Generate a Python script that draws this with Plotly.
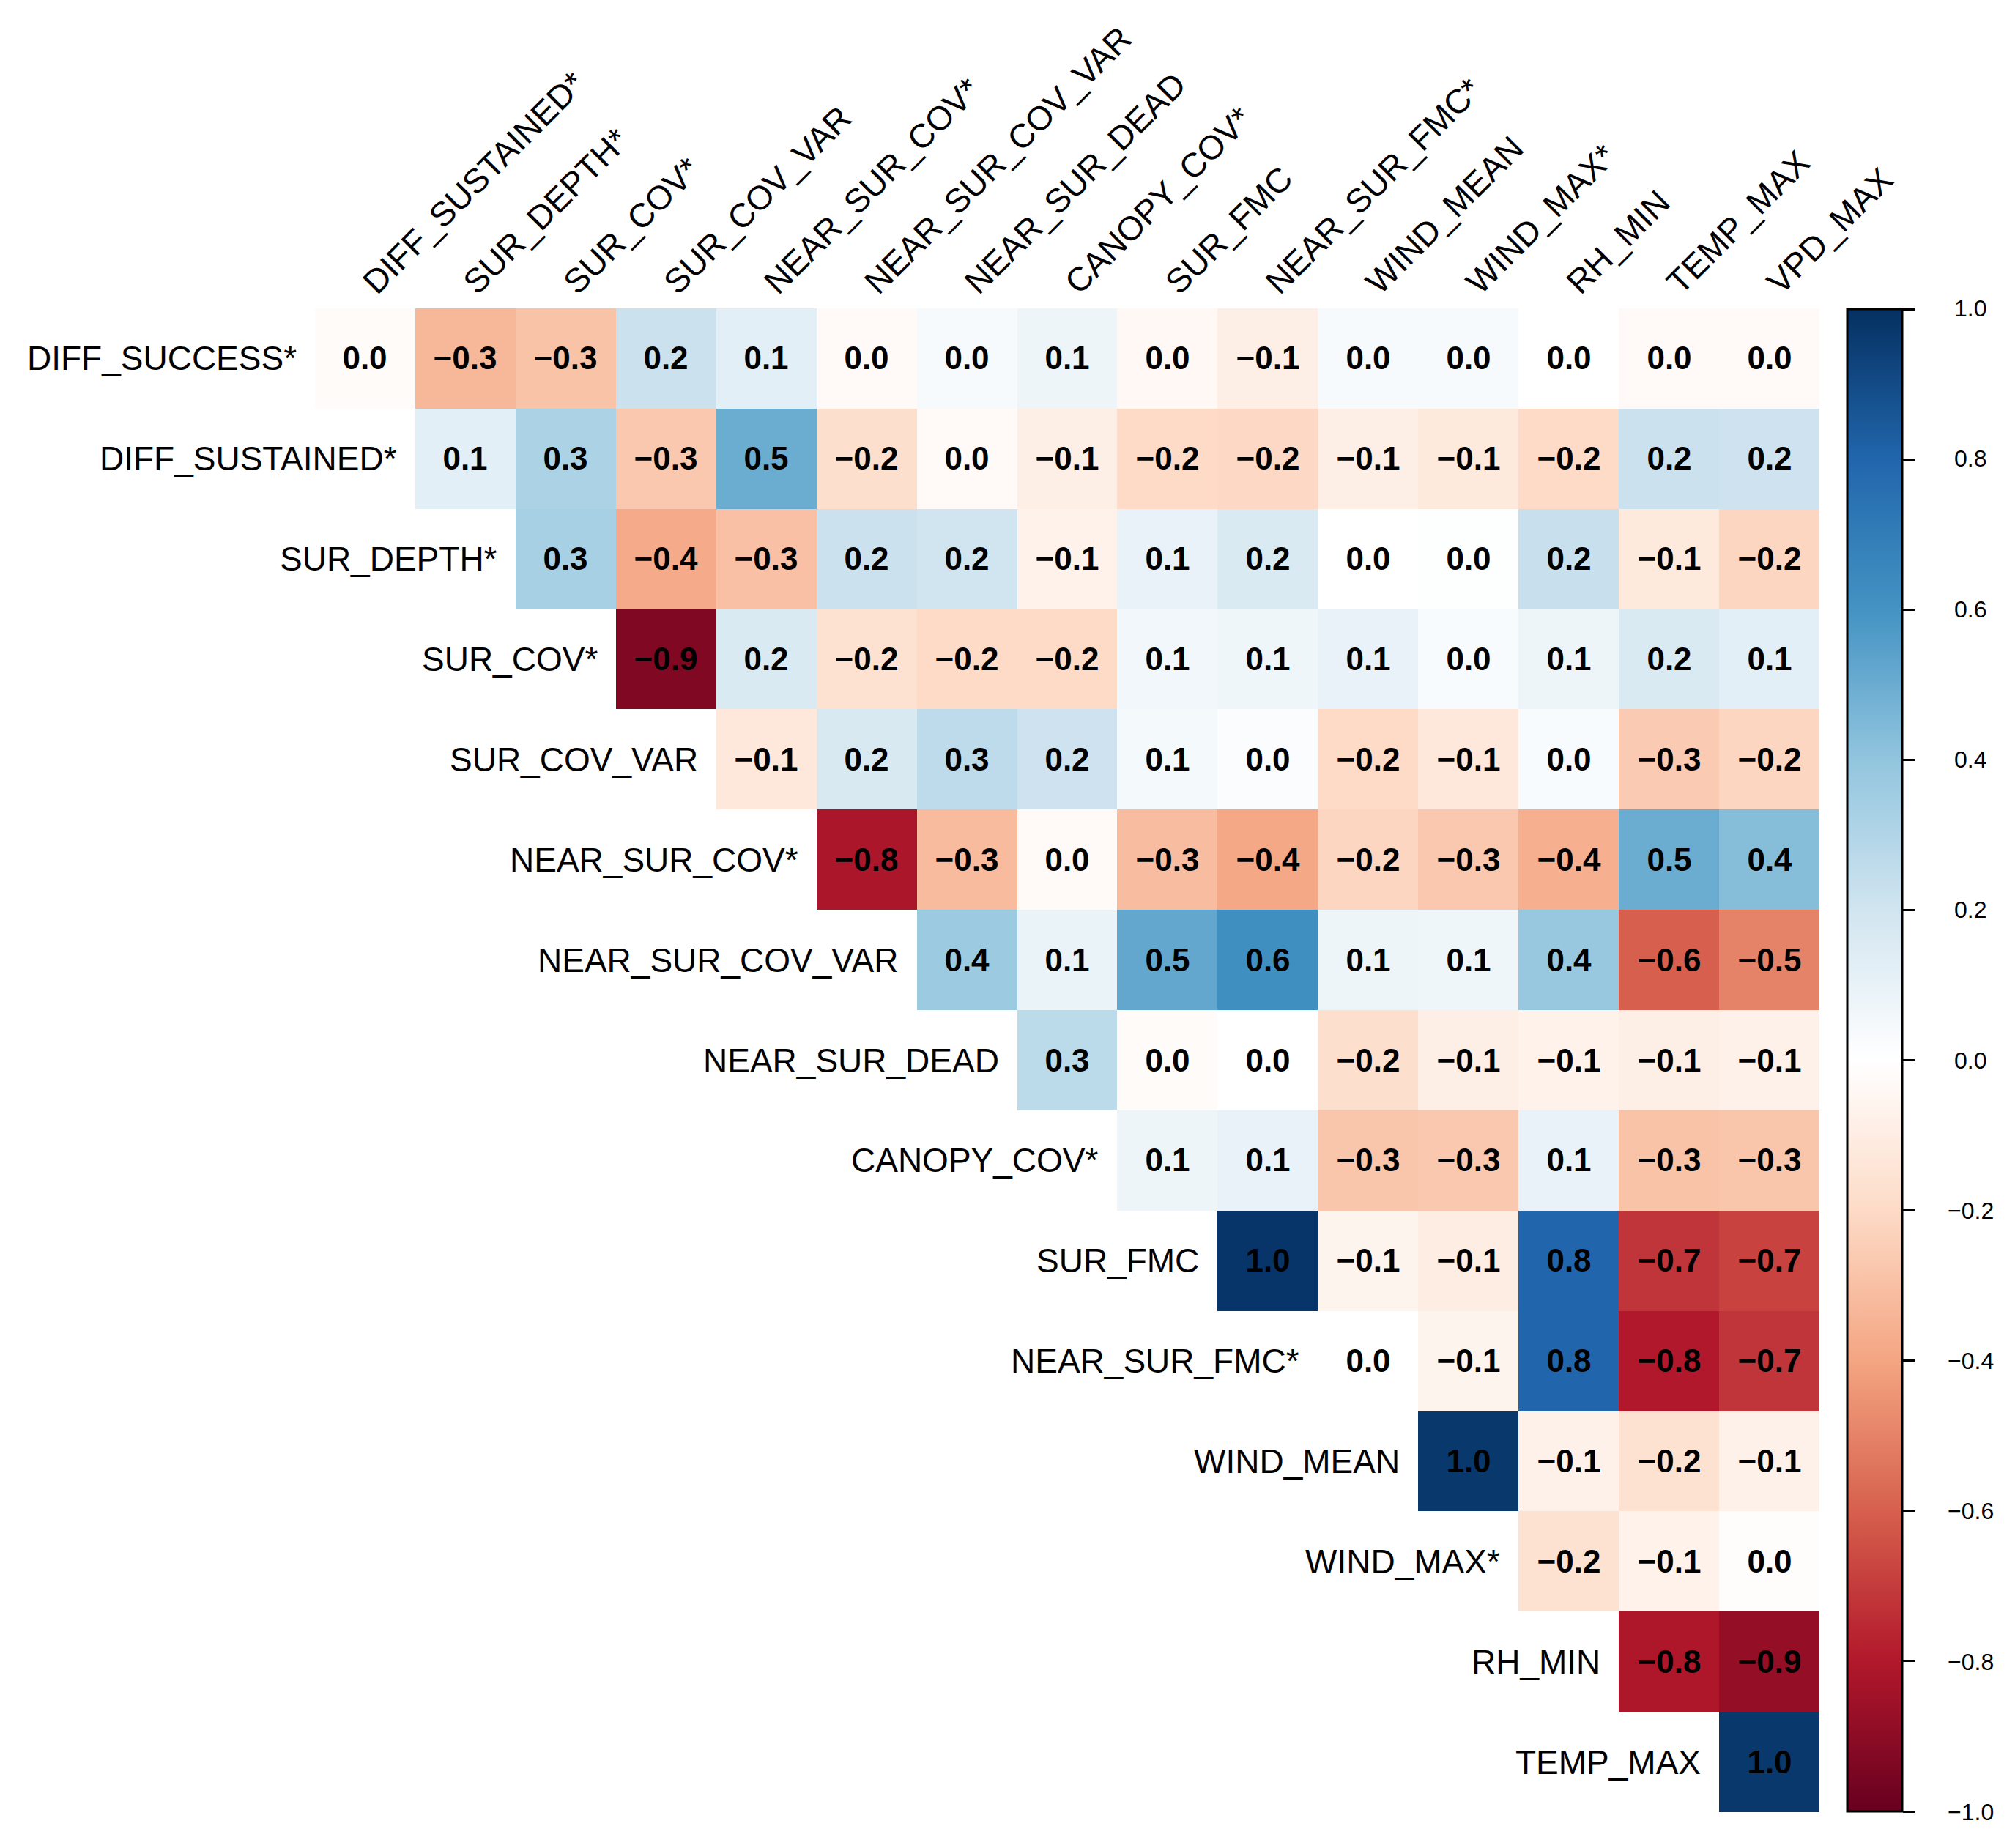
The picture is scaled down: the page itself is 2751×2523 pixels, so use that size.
import plotly.graph_objects as go

col_labels = ["DIFF_SUSTAINED*", "SUR_DEPTH*", "SUR_COV*", "SUR_COV_VAR", "NEAR_SUR_COV*",
              "NEAR_SUR_COV_VAR", "NEAR_SUR_DEAD", "CANOPY_COV*", "SUR_FMC", "NEAR_SUR_FMC*",
              "WIND_MEAN", "WIND_MAX*", "RH_MIN", "TEMP_MAX", "VPD_MAX"]
row_labels = ["DIFF_SUCCESS*", "DIFF_SUSTAINED*", "SUR_DEPTH*", "SUR_COV*", "SUR_COV_VAR",
              "NEAR_SUR_COV*", "NEAR_SUR_COV_VAR", "NEAR_SUR_DEAD", "CANOPY_COV*", "SUR_FMC",
              "NEAR_SUR_FMC*", "WIND_MEAN", "WIND_MAX*", "RH_MIN", "TEMP_MAX"]

# upper triangle, each row starts at its own column
diff_success = [-0.02, -0.33, -0.29, 0.22, 0.12, -0.03, 0.04, 0.08, -0.04, -0.09, 0.04, 0.04, 0.0, -0.03, -0.03]
diff_sustained = [0.12, 0.32, -0.27, 0.5, -0.18, -0.03, -0.09, -0.2, -0.21, -0.09, -0.12, -0.2, 0.22, 0.21]
sur_depth = [0.33, -0.38, -0.3, 0.22, 0.2, -0.07, 0.1, 0.16, 0.0, 0.01, 0.23, -0.12, -0.22]
sur_cov = [-0.93, 0.16, -0.16, -0.2, -0.2, 0.06, 0.07, 0.1, 0.03, 0.08, 0.16, 0.12]
sur_cov_var = [-0.13, 0.17, 0.26, 0.21, 0.05, 0.02, -0.2, -0.13, 0.03, -0.26, -0.22]
near_sur_cov = [-0.82, -0.32, -0.03, -0.31, -0.39, -0.22, -0.27, -0.36, 0.5, 0.43]
near_sur_cov_var = [0.37, 0.09, 0.52, 0.62, 0.08, 0.07, 0.38, -0.6, -0.5]
near_sur_dead = [0.27, -0.02, 0.0, -0.18, -0.09, -0.07, -0.09, -0.08]
canopy_cov = [0.08, 0.1, -0.28, -0.27, 0.1, -0.29, -0.28]
sur_fmc = [0.98, -0.06, -0.1, 0.8, -0.72, -0.68]
near_sur_fmc = [0.0, -0.06, 0.8, -0.8, -0.72]
wind_mean = [0.97, -0.08, -0.16, -0.08]
wind_max = [-0.16, -0.07, -0.01]
rh_min = [-0.81, -0.88]
temp_max = [0.97]

rows = [diff_success, diff_sustained, sur_depth, sur_cov, sur_cov_var, near_sur_cov,
        near_sur_cov_var, near_sur_dead, canopy_cov, sur_fmc, near_sur_fmc, wind_mean,
        wind_max, rh_min, temp_max]

bar_ticks = [-1.0, -0.8, -0.6, -0.4, -0.2, 0.0, 0.2, 0.4, 0.6, 0.8, 1.0]

FONT = "Arial, Liberation Sans, sans-serif"


def fmt(v):
    s = f"{v:.1f}"
    if s == "-0.0":
        s = "0.0"
    return s.replace("-", "\u2212")


n = len(col_labels)
z = []
txt = []
for vals in rows:
    pad = n - len(vals)
    z.append([None] * pad + vals)
    txt.append([""] * pad + ["<b>" + fmt(v) + "</b>" for v in vals])

rdbu = ["#67001F", "#B2182B", "#D6604D", "#F4A582", "#FDDBC7", "#FFFFFF",
        "#D1E5F0", "#92C5DE", "#4393C3", "#2166AC", "#053061"]
cscale = [[i / 10, c] for i, c in enumerate(rdbu)]

fig = go.Figure(go.Heatmap(
    z=z, x=list(range(n)), y=list(range(n)),
    text=txt, texttemplate="%{text}",
    textfont=dict(family=FONT, size=44, color="black"),
    colorscale=cscale, zmin=-1, zmax=1,
    hoverinfo="skip",
    colorbar=dict(
        x=1.0185, xanchor="left", xpad=0,
        y=0.5, yanchor="middle", ypad=0,
        lenmode="pixels", len=2051,
        thicknessmode="pixels", thickness=75,
        outlinecolor="black", outlinewidth=3,
        ticks="outside", ticklen=16, tickwidth=3, tickcolor="black",
        tickvals=bar_ticks, showticklabels=False,
    ),
))

for i, lab in enumerate(row_labels):
    fig.add_annotation(x=n - len(rows[i]) - 0.5, y=i, text=lab, showarrow=False,
                       xanchor="right", yanchor="middle", xshift=-23,
                       font=dict(family=FONT, size=46, color="black"))

# colour legend labels, centred like corrplot does
for t in bar_ticks:
    fig.add_annotation(xref="paper", yref="paper", x=1.1003, y=(t + 1) / 2, text=fmt(t),
                       showarrow=False, xanchor="center", yanchor="middle",
                       font=dict(family=FONT, size=32, color="black"))

fig.update_layout(
    width=2751, height=2523,
    margin=dict(l=422, r=275, t=413, b=57),
    paper_bgcolor="white", plot_bgcolor="white",
    xaxis=dict(range=[-0.5, n - 0.5], side="top", tickvals=list(range(n)), ticktext=col_labels,
               tickangle=-45, tickfont=dict(family=FONT, size=46, color="black"),
               showgrid=False, zeroline=False, showline=False, ticks=""),
    yaxis=dict(range=[n - 0.5, -0.5], showticklabels=False, showgrid=False,
               zeroline=False, showline=False, ticks=""),
)

fig.write_html("out.html")
